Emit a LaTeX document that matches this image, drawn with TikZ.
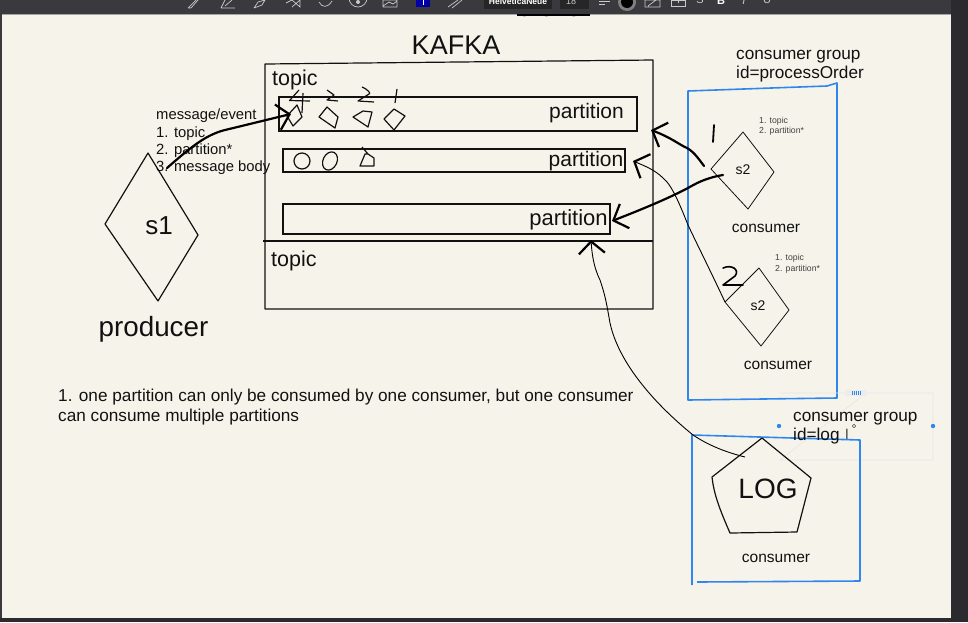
\documentclass[tikz,border=0pt]{standalone}
\usepackage{fontspec}
\setmainfont{Liberation Sans}
\usepackage{xcolor}
\usetikzlibrary{positioning,calc,shapes.geometric,arrows.meta}
\definecolor{PaperCream}{HTML}{F6F4EA}
\definecolor{BarDark}{HTML}{3A393E}
\definecolor{SideDark}{HTML}{2B2A2E}
\definecolor{GroupBlue}{HTML}{2F86EE}
\definecolor{IconGrey}{HTML}{C9C9CB}
\definecolor{InkBlack}{HTML}{111111}
\tikzset{
    label text/.style={inner sep=0pt, text=InkBlack},
    partition box/.style={rectangle, draw=InkBlack, line width=1.2pt, inner sep=0pt},
    sketch/.style={draw=InkBlack, line width=1.2pt, line join=round},
    ink/.style={draw=black, line width=1.8pt, line cap=round, line join=round},
    group box/.style={draw=GroupBlue, line width=1.6pt, line join=round},
    tool icon/.style={draw=IconGrey, line width=0.7pt}
}
\begin{document}
\begin{tikzpicture}[
        x=1pt, y=-1pt,
        % --- HAND ARROWS ---
        hand arrow/.style={draw=black, line width=2.2pt, line cap=round,
            -{Straight Barb[length=12pt, width=26pt, line width=2.2pt]}},
        thin arrow/.style={draw=black, line width=0.9pt,
            -{Straight Barb[length=12pt, width=26pt, line width=2.2pt]}}
    ]
    \useasboundingbox (0,0) rectangle (968,622);
    % --- PAPER ---
    \fill[PaperCream] (0,0) rectangle (968,622);
    \node[label text, anchor=base, font=\fontsize{26}{30}\selectfont] (broker) at (553,16) {broker};

    % --- WINDOW FRAME ---
    \fill[BarDark] (0,0) rectangle (968,14);
    \fill[black] (517,14) rectangle (590,15.5);
    \fill[gray!70] (0,14) rectangle (517,14.8);
    \fill[gray!70] (590,14) rectangle (951,14.8);
    \fill[BarDark] (0,0) rectangle (2,622);
    \fill[SideDark] (951,0) rectangle (968,622);
    \fill[SideDark] (0,618) rectangle (968,622);

    % --- TOOLBAR ---
    \draw[tool icon] (188,8) -- (196,0) (191,8) -- (198,0) (188,8) -- (191,8);
    \draw[tool icon] (221,8) -- (235,8) (225,6) -- (232,0) (221,8) -- (225,0);
    \draw[tool icon] (254,8) -- (258,2) -- (265,0) (254,8) -- (262,5) -- (265,0);
    \draw[tool icon] (286,3) -- (292,0) -- (300,7) -- (300,0) (292,7) -- (300,0);
    \draw[tool icon] (319,2) .. controls (322,8) and (328,8) .. (332,1);
    \draw[tool icon] (358,-2) circle (9);
    \fill[IconGrey] (358,2) circle (2);
    \draw[tool icon] (383,0) rectangle (397,7) (383,6) -- (389,2) -- (393,4) -- (397,1);
    \fill[blue!65!black] (416,0) rectangle (430,7);
    \fill[white] (423,0) rectangle (424,5);
    \draw[tool icon] (448,7) -- (458,0) (452,8) -- (462,0);
    \fill[black!85] (484,0) rectangle (552,9);
    \node[label text, text=white, font=\bfseries\fontsize{8.5}{10}\selectfont] (fontname) at (518,1) {HelveticaNeue};
    \fill[black!85] (560,0) rectangle (589,9);
    \node[label text, text=IconGrey, font=\fontsize{9}{11}\selectfont] (fontsize) at (571,1) {18};
    \draw[tool icon] (599,1) -- (610,1) (599,4) -- (605,4);
    \fill[gray] (627,2) circle (9);
    \fill[black] (627,2) circle (6);
    \draw[tool icon] (645,0) rectangle (660,7) (648,6) -- (656,0);
    \draw[tool icon] (671,0) rectangle (685,6) (678,0) -- (678,3);
    \node[label text, text=IconGrey, font=\fontsize{11}{13}\selectfont] (strikebtn) at (700,0) {S};
    \node[label text, text=white, font=\bfseries\fontsize{11}{13}\selectfont] (boldbtn) at (721,1) {B};
    \node[label text, text=IconGrey, font=\itshape\fontsize{11}{13}\selectfont] (italicbtn) at (744,1) {I};
    \node[label text, text=IconGrey, font=\fontsize{11}{13}\selectfont] (underlinebtn) at (767,0) {U};

    % --- KAFKA ---
    \node[label text, font=\fontsize{27}{31}\selectfont] (kafka) at (456,45) {KAFKA};
    \draw[sketch] (265,64) -- (653,60) -- (653,309) -- (265,309) -- cycle;
    \draw[sketch] (263,241) -- (653,241);
    \node[label text, anchor=west, font=\fontsize{21.5}{25}\selectfont] (topicA) at (272,80) {topic};
    \node[label text, anchor=west, font=\fontsize{21.5}{25}\selectfont] (topicB) at (271,261) {topic};

    % --- PARTITIONS ---
    \node[partition box, minimum width=358pt, minimum height=34pt] (partA) at (458,114) {};
    \node[partition box, minimum width=342pt, minimum height=23pt] (partB) at (454,160.5) {};
    \node[partition box, minimum width=327pt, minimum height=30pt] (partC) at (446.5,219) {};
    \node[label text, font=\fontsize{21}{25}\selectfont] (partAtext) at (586.5,113) {partition};
    \node[label text, font=\fontsize{21}{25}\selectfont] (partBtext) at (586,161) {partition};
    \node[label text, font=\fontsize{22}{26}\selectfont] (partCtext) at (568.5,220) {partition};

    % --- MESSAGES ---
    \draw[sketch] (287,116) -- (297,105) -- (302,117) -- (293,126) -- cycle;
    \draw[sketch] (319,117) -- (327,107) -- (338,117) -- (335,128) -- cycle;
    \draw[sketch] (353,117) -- (363,111) -- (372,112) -- (368,127) -- cycle;
    \draw[sketch] (384,119) -- (394,109) -- (405,116) -- (394,130) -- cycle;
    \draw[sketch] (302,161) circle (8);
    \draw[sketch, rotate around={-25:(330,161)}] (330,161) ellipse (7 and 9.5);
    \draw[sketch] (362,147) -- (368,154) -- (374,158) -- (374,166) -- (360,166) -- (365,154) -- (368,154);
    % offsets above the messages
    \draw[sketch] (290,100) -- (299,90) (289,100.5) -- (310,101) (303,93) -- (302,113);
    \draw[sketch] (327,90) -- (334,95) -- (327,100) -- (338,101);
    \draw[sketch] (362,87) .. controls (369,90) and (371,94) .. (369,94) -- (358,101) -- (374,102);
    \draw[sketch] (397,89) -- (395,103);

    % --- MESSAGE NOTE ---
    \node[label text, anchor=west, align=left, font=\fontsize{14.8}{17.4}\selectfont] (msgnote) at (156,142) {message/event\\1. topic\\2. partition*\\3. message body};

    % --- PRODUCER ---
    \draw[sketch] (148,153) coordinate (s1top) -- (198,235) -- (158,301) -- (105,224) -- cycle;
    \node[label text, font=\fontsize{26}{30}\selectfont] (s1) at (159,226) {s1};
    \node[label text, font=\fontsize{27.8}{32}\selectfont] (producer) at (153.5,329) {producer};
    \coordinate (s1out) at (167,168);

    % --- NOTE ---
    \node[label text, anchor=west, align=left, font=\fontsize{17.2}{20}\selectfont] (rulenote) at (58,407) {1. one partition can only be consumed by one consumer, but one consumer\\can consume multiple partitions};

    % --- GROUP processOrder ---
    \node[label text, anchor=west, align=left, font=\fontsize{17.2}{19}\selectfont] (groupA) at (736,66) {consumer group\\id=processOrder};
    \draw[group box] (688,91) -- (827,86) -- (837,83) -- (837,398) -- (688,400) -- cycle;
    \draw[sketch, line width=0.8pt] (743,132) coordinate (s2top) -- (774,172) -- (748,209) -- (711,169) -- cycle;
    \node[label text, font=\fontsize{14}{17}\selectfont] (s2a) at (743,170) {s2};
    \node[label text, anchor=west, align=left, text=black!75, font=\fontsize{8.7}{10.5}\selectfont] (listA) at (759,126) {1. topic\\2. partition*};
    \node[label text, font=\fontsize{15.5}{18}\selectfont] (consumerA) at (766,228) {consumer};
    \draw[sketch, line width=0.8pt] (759,268) -- (789,310) -- (761,346) -- (725,302) coordinate (s2left) -- cycle;
    \node[label text, font=\fontsize{14}{17}\selectfont] (s2b) at (758,306) {s2};
    \node[label text, anchor=west, align=left, text=black!75, font=\fontsize{8.7}{10.5}\selectfont] (listB) at (775,263.5) {1. topic\\2. partition*};
    \node[label text, font=\fontsize{15.5}{18}\selectfont] (consumerB) at (778,365) {consumer};
    % hand numbers
    \draw[ink] (714,125) -- (713,142);
    \draw[ink, line width=1.6pt] (723,268) .. controls (732,264) and (740,270) .. (735,276) -- (723,285) -- (743,285);
    \coordinate (s2aout) at (704,166);
    \coordinate (s2ain) at (723,175);

    % --- SELECTION FRAME ---
    \draw[gray!20, line width=0.6pt] (780,393) -- (846,393) (866,393) -- (933,393) -- (933,460) -- (780,460) -- cycle;
    \fill[GroupBlue] (779,426) circle (2.2);
    \fill[GroupBlue] (933,426) circle (2.2);
    \fill[gray!15] (845,390) rectangle (867,396);
    \foreach \tickx in {852,854,856,858,860} {
        \fill[GroupBlue] (\tickx,390.5) rectangle (\tickx+1,394.5);
    }

    % --- GROUP log ---
    \draw[group box] (692,585) -- (692,435) -- (860,440) -- (860,581) -- (697,582);
    \node[label text, anchor=west, align=left, font=\fontsize{17.2}{19}\selectfont] (groupB) at (793,428) {consumer group\\id=log};
    \node[label text, font=\fontsize{15}{17}\selectfont, text=black!70] (cursor) at (847,434) {I};
    \draw[black!70, line width=0.5pt] (854,426) circle (1.8);
    \draw[sketch] (762,438) -- (811,478) -- (797,532) -- (730,533) .. controls (720,510) and (714,495) .. (712,477) -- cycle;
    \node[label text, font=\fontsize{28}{32}\selectfont] (log) at (768,489) {LOG};
    \node[label text, font=\fontsize{15.5}{18}\selectfont] (consumerC) at (776,558) {consumer};
    \coordinate (logout) at (745,457);

    % --- CONNECTORS ---
    \coordinate (partAin) at (291,114);
    \coordinate (partAout) at (651,130);
    \coordinate (partBout) at (633,161);
    \coordinate (partCout) at (612,221);
    \coordinate (partCdown) at (591,240);
    \draw[hand arrow] (s1out) .. controls (190,148) and (205,135) .. (225,130) .. controls (250,124) and (270,119) .. (partAin);
    \draw[hand arrow] (s2aout) .. controls (698,158) and (694,152) .. (687,148) .. controls (678,144) and (672,138) .. (partAout);
    \draw[hand arrow] (s2ain) .. controls (705,178) and (695,184) .. (688,188) .. controls (665,200) and (640,210) .. (partCout);
    \draw[thin arrow] (s2left) .. controls (710,270) and (695,240) .. (688,225) .. controls (680,205) and (672,185) .. (663,178) .. controls (655,170) and (645,166) .. (partBout);
    \draw[thin arrow] (logout) .. controls (725,452) and (708,445) .. (693,435) .. controls (650,400) and (618,360) .. (610,323) .. controls (606,300) and (605,295) .. (600,280) .. controls (594,268) and (592,255) .. (partCdown);
\end{tikzpicture}
\end{document}
